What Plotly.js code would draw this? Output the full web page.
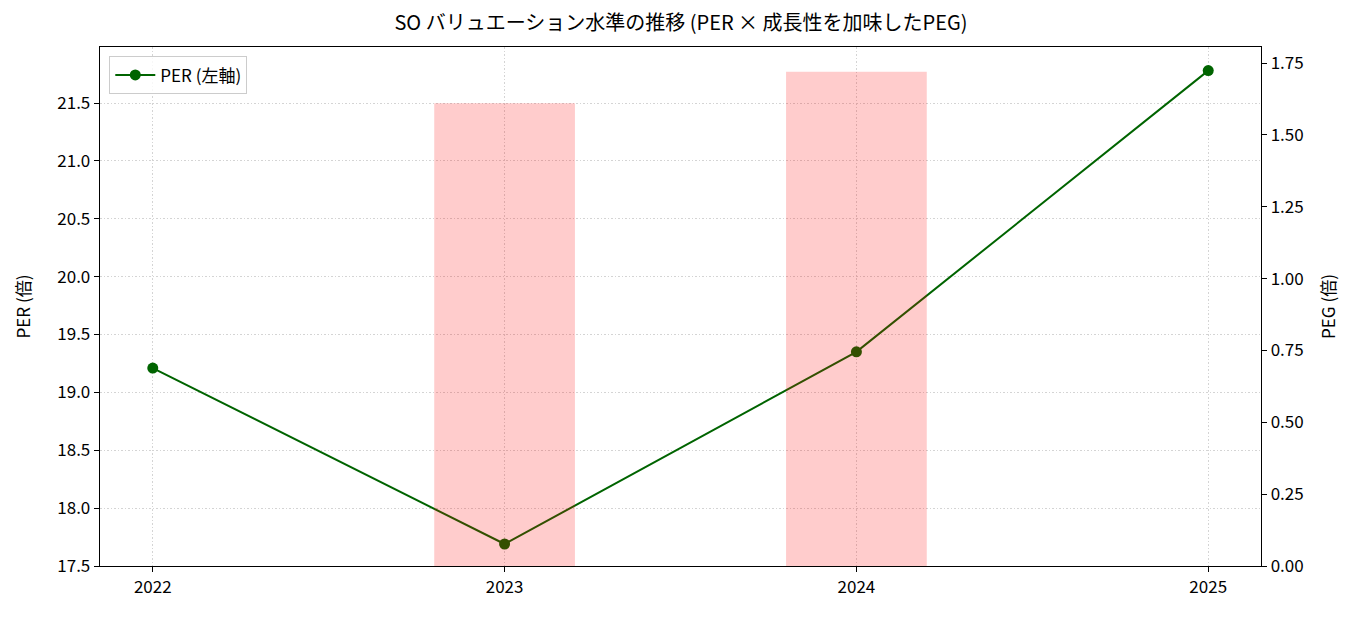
<!DOCTYPE html>
<html><head><meta charset="utf-8">
<script src="https://cdn.plot.ly/plotly-3.0.1.min.js"></script>
<style>html,body{margin:0;padding:0;background:#fff}#chart{width:1362px;height:617px}</style>
</head><body><div id="chart"></div>
<script>
const years = [2022, 2023, 2024, 2025];
const perValues = [19.21, 17.69, 19.35, 21.78];
const pegValues = [null, 1.61, 1.72, null];
const titleText = 'SO バリュエーション水準の推移 (PER × 成長性を加味したPEG)';
const font = '"Noto Sans CJK JP", "DejaVu Sans", sans-serif';

const traces = [
  {x: years, y: perValues, type: 'scatter', mode: 'lines+markers', name: 'PER (左軸)',
   line: {color: '#006400', width: 2}, marker: {color: '#006400', size: 11}, yaxis: 'y'},
  {x: years, y: pegValues, type: 'bar', name: 'PEG (右軸)', width: 0.4,
   marker: {color: 'rgba(255,0,0,0.2)', line: {width: 0}}, yaxis: 'y2', showlegend: false}
];
const gridDash = '1.5px,2px';
const layout = {
  width: 1362, height: 617,
  margin: {l: 100, r: 101, t: 47, b: 51},
  paper_bgcolor: '#fff', plot_bgcolor: '#fff',
  font: {family: font, size: 17, color: '#000'},
  title: {text: titleText, x: 0.5, xanchor: 'center', y: 0.962, yanchor: 'middle', font: {size: 20}},
  showlegend: true,
  legend: {x: 0.008, y: 0.982, xanchor: 'left', yanchor: 'top', bgcolor: 'rgba(255,255,255,0.8)',
           bordercolor: '#cccccc', borderwidth: 1, font: {size: 17}, itemwidth: 40},
  xaxis: {range: [2021.85, 2025.15], tickvals: years, ticktext: years.map(String),
          showline: true, linecolor: '#000', linewidth: 1.3, mirror: true,
          ticks: 'outside', ticklen: 5, tickcolor: '#000', tickfont: {size: 17},
          showgrid: true, gridcolor: '#d4d4d4', griddash: gridDash, gridwidth: 1, zeroline: false},
  yaxis: {range: [17.5, 21.984], tickvals: [17.5,18,18.5,19,19.5,20,20.5,21,21.5],
          ticktext: ['17.5','18.0','18.5','19.0','19.5','20.0','20.5','21.0','21.5'],
          title: {text: 'PER (倍)', standoff: 22, font: {size: 17}},
          showline: true, linecolor: '#000', linewidth: 1.3,
          ticks: 'outside', ticklen: 5, tickcolor: '#000', tickfont: {size: 17},
          showgrid: true, gridcolor: '#d4d4d4', griddash: gridDash, gridwidth: 1, zeroline: false},
  yaxis2: {range: [0, 1.806], overlaying: 'y', side: 'right',
          tickvals: [0,0.25,0.5,0.75,1,1.25,1.5,1.75],
          ticktext: ['0.00','0.25','0.50','0.75','1.00','1.25','1.50','1.75'],
          title: {text: 'PEG (倍)', standoff: 20, font: {size: 17}},
          showline: true, linecolor: '#000', linewidth: 1.3,
          ticks: 'outside', ticklen: 5, tickcolor: '#000', tickfont: {size: 17},
          showgrid: false, zeroline: false}
};
Plotly.newPlot('chart', traces, layout, {displayModeBar: false, staticPlot: true});
</script></body></html>
